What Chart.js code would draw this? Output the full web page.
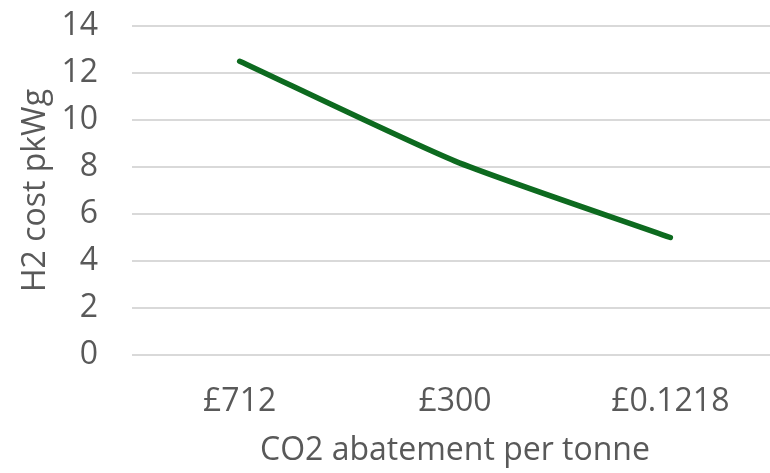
<!DOCTYPE html>
<html>
<head>
<meta charset="utf-8">
<script src="https://cdn.jsdelivr.net/npm/chart.js@4"></script>
<style>
  html, body { margin: 0; padding: 0; background: #ffffff; overflow: hidden; }
  #wrap { position: absolute; left: 0; top: 0; width: 780px; height: 473px; }
</style>
</head>
<body>
<div id="wrap"><canvas id="chart"></canvas></div>
<script>
// CO2 abatement price levels and the matching hydrogen cost
const categories = ['£712', '£300', '£0.1218'];
const h2Cost = [12.5, 8.25, 5.0];
const yTicks = [0, 2, 4, 6, 8, 10, 12, 14];

const textColor = '#595959';
const gridColor = '#d9d9d9';
const fontFamily = '"Open Sans", "Noto Sans", sans-serif';

new Chart(document.getElementById('chart'), {
  type: 'line',
  data: {
    labels: categories,
    datasets: [{
      data: h2Cost,
      borderColor: '#0d6a1f',
      borderWidth: 5.5,
      borderCapStyle: 'round',
      borderJoinStyle: 'round',
      tension: 0.2,
      pointRadius: 0,
      pointHoverRadius: 0,
      fill: false
    }]
  },
  options: {
    responsive: true,
    maintainAspectRatio: false,
    animation: false,
    layout: { padding: { top: 26, right: 2, left: 0, bottom: 0 } },
    plugins: { legend: { display: false }, tooltip: { enabled: false } },
    scales: {
      x: {
        offset: true,
        grid: { display: false, drawTicks: false },
        border: { display: false },
        ticks: {
          color: textColor,
          font: { family: fontFamily, size: 32 },
          padding: 28,
          maxRotation: 0
        },
        title: {
          display: true,
          text: 'CO2 abatement per tonne',
          color: textColor,
          font: { family: fontFamily, size: 32 },
          padding: { top: 0, bottom: 3 }
        },
        afterFit(scale) { scale.height = 118; }
      },
      y: {
        min: 0,
        max: 14,
        afterBuildTicks(scale) { scale.ticks = yTicks.map(v => ({ value: v })); },
        grid: { color: gridColor, lineWidth: 2, drawTicks: false },
        border: { display: false },
        ticks: {
          color: textColor,
          font: { family: fontFamily, size: 32 },
          padding: 34
        },
        title: {
          display: true,
          text: 'H2 cost pkWg',
          color: textColor,
          font: { family: fontFamily, size: 32 },
          padding: { top: 17, bottom: 0 }
        },
        afterFit(scale) {
          // fixed axis width; the plot area top is set by the layout padding alone
          scale.width = 132;
          scale.paddingTop = 0;
          scale.paddingBottom = 0;
        }
      }
    }
  }
});
</script>
</body>
</html>
